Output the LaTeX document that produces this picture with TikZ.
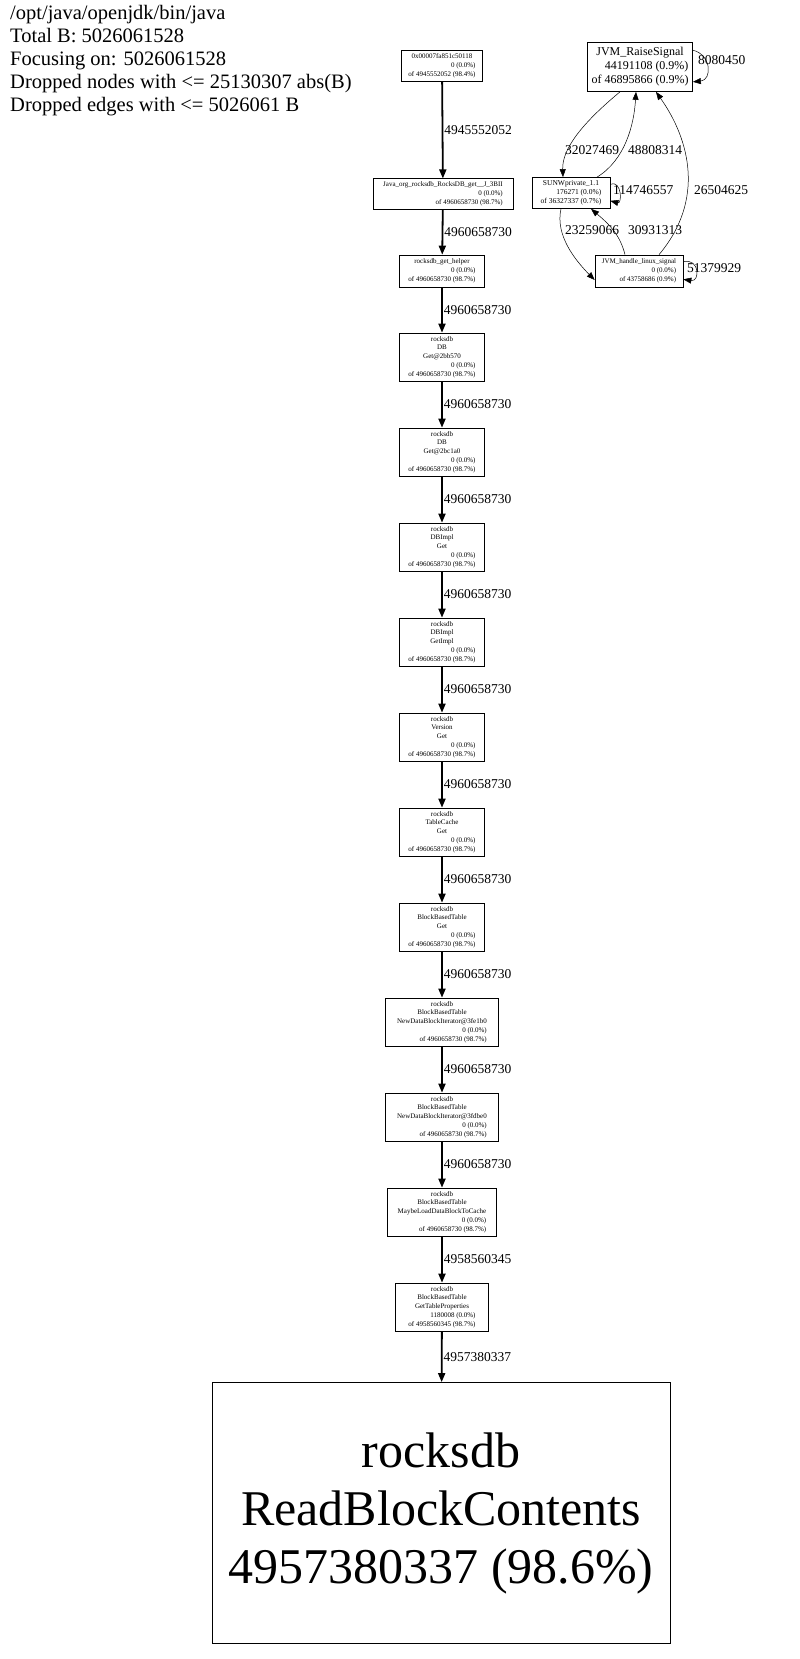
\documentclass[tikz,border=0pt]{standalone}
\usepackage{fontspec}
\setmainfont{Liberation Serif}
\usetikzlibrary{arrows.meta}
\newcommand{\cl}[1]{\multicolumn{1}{@{}c@{}}{#1}\\}
\newcommand{\tb}[1]{\begin{tabular}{@{}r@{}}#1\end{tabular}}
\begin{document}
\begin{tikzpicture}[x=1pt,y=-1pt,
  fn/.style={draw,line width=0.7pt,inner sep=2pt,font=\fontsize{7}{8.8}\selectfont},
  chain/.style={line width=1.8pt,-{Triangle[length=9pt,width=7pt]}},
  thin/.style={line width=0.5pt,-{Triangle[length=8pt,width=6pt]}},
  el/.style={anchor=west,font=\fontsize{13.5}{15}\selectfont,inner sep=1pt}]
\useasboundingbox (0,0) rectangle (800,1659);
\node[anchor=north west,align=left,font=\fontsize{20.5}{23}\selectfont,inner sep=0] (title) at (10,5)
 {/opt/java/openjdk/bin/java\\Total B: 5026061528\\Focusing on: 5026061528\\Dropped nodes with <= 25130307 abs(B)\\Dropped edges with <= 5026061 B};

\node[fn,minimum width=81pt,minimum height=28pt] (n1) at (442,66) {\tb{\cl{0x00007fa851c50118}0 (0.0\%)\\of 4945552052 (98.4\%)}};
\node[fn,minimum width=140pt,minimum height=28pt] (n2) at (443,194) {\tb{\cl{Java\_org\_rocksdb\_RocksDB\_get\_\_J\_3BII}0 (0.0\%)\\of 4960658730 (98.7\%)}};
\node[fn,minimum width=85pt,minimum height=32pt] (n3) at (442,271) {\tb{\cl{rocksdb\_get\_helper}0 (0.0\%)\\of 4960658730 (98.7\%)}};
\node[fn,minimum width=85pt,minimum height=48pt] (n4) at (442,357) {\tb{\cl{rocksdb}\cl{DB}\cl{Get@2bb570}0 (0.0\%)\\of 4960658730 (98.7\%)}};
\node[fn,minimum width=85pt,minimum height=48pt] (n5) at (442,452) {\tb{\cl{rocksdb}\cl{DB}\cl{Get@2bc1a0}0 (0.0\%)\\of 4960658730 (98.7\%)}};
\node[fn,minimum width=85pt,minimum height=48pt] (n6) at (442,547) {\tb{\cl{rocksdb}\cl{DBImpl}\cl{Get}0 (0.0\%)\\of 4960658730 (98.7\%)}};
\node[fn,minimum width=85pt,minimum height=48pt] (n7) at (442,642) {\tb{\cl{rocksdb}\cl{DBImpl}\cl{GetImpl}0 (0.0\%)\\of 4960658730 (98.7\%)}};
\node[fn,minimum width=85pt,minimum height=48pt] (n8) at (442,737) {\tb{\cl{rocksdb}\cl{Version}\cl{Get}0 (0.0\%)\\of 4960658730 (98.7\%)}};
\node[fn,minimum width=85pt,minimum height=48pt] (n9) at (442,832) {\tb{\cl{rocksdb}\cl{TableCache}\cl{Get}0 (0.0\%)\\of 4960658730 (98.7\%)}};
\node[fn,minimum width=85pt,minimum height=48pt] (n10) at (442,927) {\tb{\cl{rocksdb}\cl{BlockBasedTable}\cl{Get}0 (0.0\%)\\of 4960658730 (98.7\%)}};
\node[fn,minimum width=113pt,minimum height=48pt] (n11) at (442,1022) {\tb{\cl{rocksdb}\cl{BlockBasedTable}\cl{NewDataBlockIterator@3fe1b0}0 (0.0\%)\\of 4960658730 (98.7\%)}};
\node[fn,minimum width=113pt,minimum height=48pt] (n12) at (442,1117) {\tb{\cl{rocksdb}\cl{BlockBasedTable}\cl{NewDataBlockIterator@3fdbe0}0 (0.0\%)\\of 4960658730 (98.7\%)}};
\node[fn,minimum width=109pt,minimum height=48pt] (n13) at (442,1212) {\tb{\cl{rocksdb}\cl{BlockBasedTable}\cl{MaybeLoadDataBlockToCache}0 (0.0\%)\\of 4960658730 (98.7\%)}};
\node[fn,minimum width=93pt,minimum height=48pt] (n14) at (442,1307) {\tb{\cl{rocksdb}\cl{BlockBasedTable}\cl{GetTableProperties}1180008 (0.0\%)\\of 4958560345 (98.7\%)}};
\node[draw,line width=0.8pt,minimum width=458pt,minimum height=261pt,align=center,font=\fontsize{50}{58}\selectfont] (n15) at (441,1513) {rocksdb\\ReadBlockContents\\4957380337 (98.6\%)};

\draw[chain] (n1) -- node[el,pos=0.5] {4945552052} (n2);
\draw[chain] (n2) -- node[el] {4960658730} (n3);
\draw[chain] (n3) -- node[el] {4960658730} (n4);
\draw[chain] (n4) -- node[el] {4960658730} (n5);
\draw[chain] (n5) -- node[el] {4960658730} (n6);
\draw[chain] (n6) -- node[el] {4960658730} (n7);
\draw[chain] (n7) -- node[el] {4960658730} (n8);
\draw[chain] (n8) -- node[el] {4960658730} (n9);
\draw[chain] (n9) -- node[el] {4960658730} (n10);
\draw[chain] (n10) -- node[el] {4960658730} (n11);
\draw[chain] (n11) -- node[el] {4960658730} (n12);
\draw[chain] (n12) -- node[el] {4960658730} (n13);
\draw[chain] (n13) -- node[el] {4958560345} (n14);
\draw[chain] (n14) -- node[el] {4957380337} (n15);

\node[draw,line width=0.7pt,minimum width=105pt,minimum height=49pt,inner sep=2pt,font=\fontsize{12}{14}\selectfont] (rs) at (640,67) {\tb{\cl{JVM\_RaiseSignal}44191108 (0.9\%)\\of 46895866 (0.9\%)}};
\node[fn,minimum width=78pt,minimum height=30pt,font=\fontsize{7.5}{9}\selectfont] (sw) at (571,193) {\tb{\cl{SUNWprivate\_1.1}176271 (0.0\%)\\of 36327337 (0.7\%)}};
\node[fn,minimum width=88pt,minimum height=32pt] (jh) at (639,271) {\tb{\cl{JVM\_handle\_linux\_signal}0 (0.0\%)\\of 43758686 (0.9\%)}};

\draw[thin] ([xshift=-20pt]rs.south) .. controls (580,125) and (562,150) .. ([xshift=-8pt]sw.north);
\draw[thin] ([xshift=26pt]sw.north) .. controls (625,160) and (634,125) .. ([xshift=-4pt]rs.south);
\draw[thin] ([yshift=-8pt]rs.north east) .. controls (712,55) and (712,80) .. ([yshift=10pt]rs.south east);
\draw[thin] ([yshift=-7pt]sw.north east) .. controls (622,180) and (622,204) .. ([yshift=8pt]sw.south east);
\draw[thin] ([xshift=-10pt]sw.south) .. controls (555,235) and (575,260) .. ([yshift=-9pt]jh.west);
\draw[thin] ([xshift=-14pt]jh.north) .. controls (620,235) and (610,225) .. ([xshift=20pt]sw.south);
\draw[thin] ([xshift=20pt]jh.north) .. controls (705,200) and (690,140) .. ([xshift=16pt]rs.south);
\draw[thin] ([yshift=-7pt]jh.north east) .. controls (700,258) and (700,282) .. ([yshift=8pt]jh.south east);

\node[el] (l1) at (564,150) {32027469};
\node[el] (l2) at (627,150) {48808314};
\node[el] (l3) at (697,60) {8080450};
\node[el] (l4) at (612,190) {114746557};
\node[el] (l5) at (693,190) {26504625};
\node[el] (l6) at (564,230) {23259066};
\node[el] (l7) at (627,230) {30931313};
\node[el] (l8) at (686,268) {51379929};
\end{tikzpicture}
\end{document}
